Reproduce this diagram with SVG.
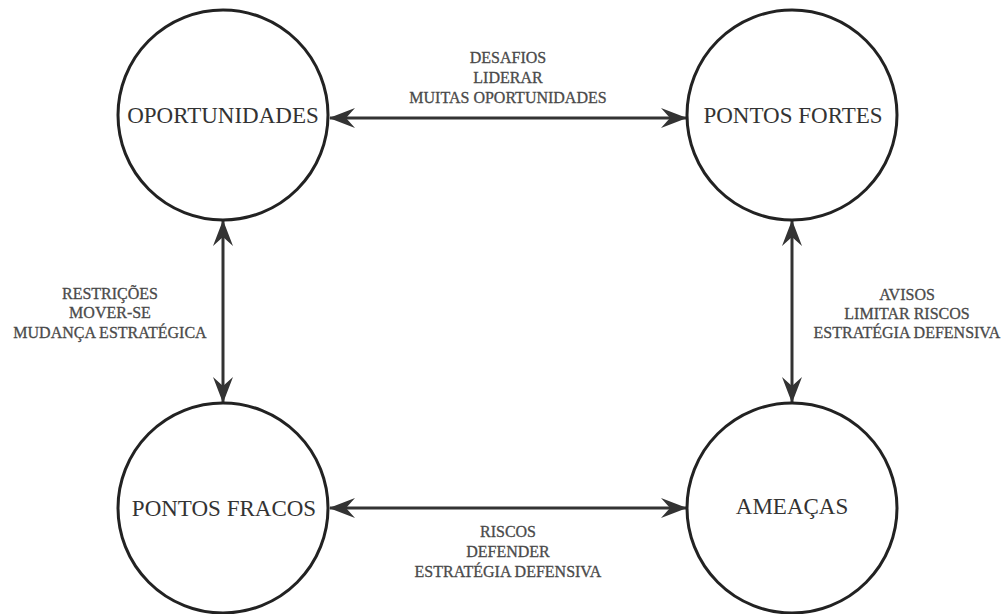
<svg xmlns="http://www.w3.org/2000/svg" width="1008" height="614" viewBox="0 0 1008 614">
<style>
.node{fill:#fff;stroke:#222;stroke-width:3}
.nl{font-family:"Liberation Serif","Times New Roman",serif;font-size:23px;fill:#333;text-anchor:middle}
.el{font-family:"Liberation Serif","Times New Roman",serif;font-size:16px;fill:#4a4a4a;stroke:#4a4a4a;stroke-width:0.3;text-anchor:middle}
.edge{stroke:#333;stroke-width:3;fill:none;marker-start:url(#ah);marker-end:url(#ah)}
</style>
<defs>
<marker id="ah" viewBox="0 0 26 20" refX="25" refY="10" markerWidth="26" markerHeight="20" markerUnits="userSpaceOnUse" orient="auto-start-reverse">
<path d="M0,0 L26,10 L0,20 L9,10 Z" fill="#333"/>
</marker>
</defs>
<rect width="1008" height="614" fill="#fff"/>
<g id="connectors">
<line class="edge" x1="330" y1="118" x2="686" y2="118"/>
<line class="edge" x1="330" y1="508" x2="686" y2="508"/>
<line class="edge" x1="223" y1="221" x2="223" y2="402"/>
<line class="edge" x1="792" y1="221" x2="792" y2="402"/>
<text class="el" x="508" y="63">DESAFIOS</text>
<text class="el" x="508" y="83">LIDERAR</text>
<text class="el" x="508" y="103">MUITAS OPORTUNIDADES</text>
<text class="el" x="110" y="299">RESTRIÇÕES</text>
<text class="el" x="110" y="318">MOVER-SE</text>
<text class="el" x="110" y="338">MUDANÇA ESTRATÉGICA</text>
<text class="el" x="907" y="300">AVISOS</text>
<text class="el" x="907" y="319">LIMITAR RISCOS</text>
<text class="el" x="907" y="338">ESTRATÉGIA DEFENSIVA</text>
<text class="el" x="508" y="537">RISCOS</text>
<text class="el" x="508" y="557">DEFENDER</text>
<text class="el" x="508" y="577">ESTRATÉGIA DEFENSIVA</text>
</g>
<g id="oportunidades">
<circle class="node" cx="223" cy="115" r="105"/>
<text class="nl" x="223" y="123">OPORTUNIDADES</text>
</g>
<g id="pontos-fortes">
<circle class="node" cx="792" cy="115" r="105"/>
<text class="nl" x="793" y="123">PONTOS FORTES</text>
</g>
<g id="pontos-fracos">
<circle class="node" cx="223" cy="508" r="105"/>
<text class="nl" x="224" y="516">PONTOS FRACOS</text>
</g>
<g id="ameacas">
<circle class="node" cx="792" cy="508" r="105"/>
<text class="nl" x="792" y="514">AMEAÇAS</text>
</g>
</svg>
